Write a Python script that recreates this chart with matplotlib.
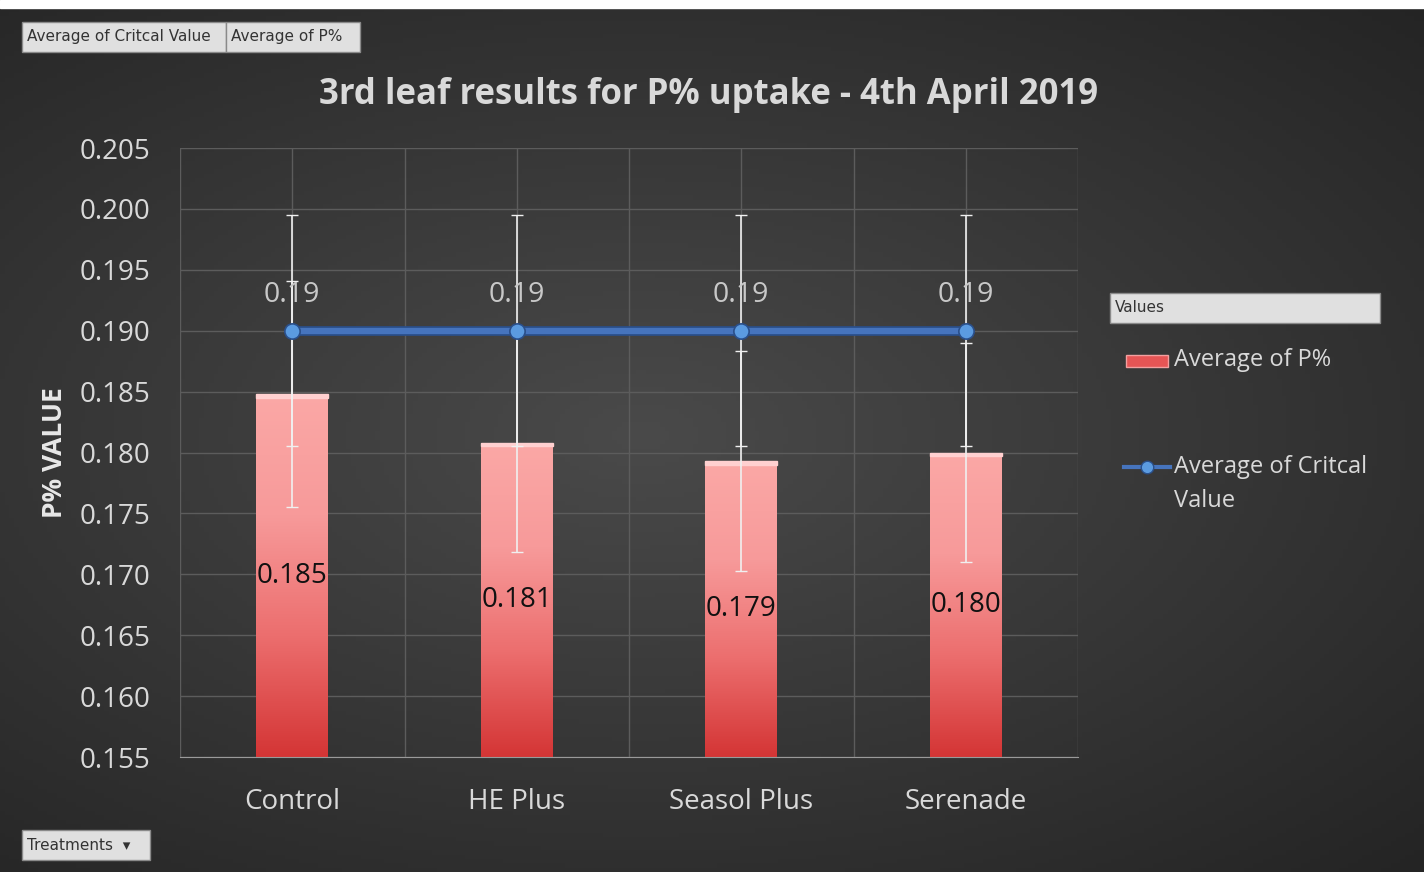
import numpy as np
import matplotlib
matplotlib.use("Agg")
import matplotlib.pyplot as plt
from matplotlib.patches import Rectangle
from matplotlib.lines import Line2D
from matplotlib.colors import LinearSegmentedColormap

plt.rcParams["font.family"] = ["Open Sans", "DejaVu Sans"]

categories = ["Control", "HE Plus", "Seasol Plus", "Serenade"]
p_values = [0.1848, 0.1808, 0.1793, 0.1800]
p_labels = ["0.185", "0.181", "0.179", "0.180"]
p_errors = [0.0093, 0.0090, 0.0090, 0.0090]
crit_values = [0.19, 0.19, 0.19, 0.19]
crit_labels = ["0.19", "0.19", "0.19", "0.19"]
crit_errors = [0.0095, 0.0095, 0.0095, 0.0095]
yticks = [0.155, 0.160, 0.165, 0.170, 0.175, 0.180, 0.185, 0.190, 0.195, 0.200, 0.205]

W, H = 1424, 872
fig = plt.figure(figsize=(W / 100, H / 100), dpi=100)

# background gradient
bg = fig.add_axes([0, 0, 1, 1], zorder=-10)
yy, xx = np.mgrid[0:1:200j, 0:1:300j]
r = np.sqrt(((xx - 0.45) / 0.9) ** 2 + ((yy - 0.5) / 0.8) ** 2)
val = 0.29 - 0.17 * r
img = np.dstack([val, val, val])
bg.imshow(np.clip(img, 0, 1), extent=[0, 1, 0, 1], aspect="auto", origin="lower")
bg.set_xlim(0, 1); bg.set_ylim(0, 1); bg.axis("off")
bg.add_patch(Rectangle((0, 1 - 8 / H), 1, 8 / H, color="white", zorder=5))

def fx(px):
    return px / W

def fy(py):
    return 1 - py / H

ax_l, ax_r, ax_t, ax_b = 180, 1078, 148, 757
ax = fig.add_axes([fx(ax_l), fy(ax_b), fx(ax_r) - fx(ax_l), fy(ax_t) - fy(ax_b)])
ax.set_facecolor("none")
x = np.arange(len(categories))
ymin, ymax = 0.155, 0.205
ax.set_yticks(yticks)
ax.set_yticklabels([f"{t:.3f}" for t in yticks], fontsize=20, color="#d9d9d9")
ax.set_xticks(x)
ax.set_xticklabels(categories, fontsize=20, color="#d9d9d9")
ax.tick_params(axis="y", length=0, pad=21)
ax.tick_params(axis="x", length=0, pad=22)
ax.grid(True, color="#5c5c5c", linewidth=1)
ax.set_axisbelow(True)
for s in ["top", "right", "left"]:
    ax.spines[s].set_visible(False)
ax.spines["bottom"].set_color("#9a9a9a")
ax.set_xticks(np.arange(-0.5, len(categories), 1), minor=True)
ax.grid(True, which="minor", axis="x", color="#5c5c5c", linewidth=1)
ax.tick_params(which="minor", length=0)

bars = ax.bar(x, p_values, width=0.32, bottom=0, color="none", zorder=2)
grad = np.linspace(0, 1, 256).reshape(-1, 1)
cmap = LinearSegmentedColormap.from_list("rg", ["#d43535", "#ec6e6e", "#f79a9a", "#fba8a6"])
for b in bars:
    x0, w, h = b.get_x(), b.get_width(), b.get_height()
    im = ax.imshow(grad, extent=[x0, x0 + w, ymin, h], origin="lower", cmap=cmap,
                   aspect="auto", zorder=2)
    im.set_clip_path(b)
    ax.add_patch(Rectangle((x0, h - 0.0003), w, 0.0003, color="#ffd0d0", zorder=2.1))
ax.set_xlim(-0.5, len(categories) - 0.5)
ax.set_ylim(ymin, ymax)

ax.errorbar(x, p_values, yerr=p_errors, fmt="none", ecolor="#f0f0f0", elinewidth=1.2,
            capsize=4, zorder=3)
ax.errorbar(x, crit_values, yerr=crit_errors, fmt="none", ecolor="#f0f0f0", elinewidth=1.2,
            capsize=4, zorder=3)
ax.plot(x, crit_values, color="#2a4f8a", linewidth=7, zorder=4)
ax.plot(x, crit_values, color="#4674bd", linewidth=4.5, zorder=4)
ax.plot(x, crit_values, linestyle="none", marker="o", markersize=11,
        markerfacecolor="#5b9be0", markeredgecolor="#2a4f8a", markeredgewidth=1.2, zorder=5)

for xi, v, lab in zip(x, crit_values, crit_labels):
    ax.text(xi, v + 0.0029, lab, ha="center", va="center", fontsize=20.5, color="#c8c8c8", zorder=6)
for xi, v, lab in zip(x, p_values, p_labels):
    ax.text(xi, (v + ymin) / 2, lab, ha="center", va="center", fontsize=20, color="#111111", zorder=6)

fig.text(fx(55), fy(453), "P% VALUE", rotation=90, ha="center", va="center",
         fontsize=19, fontweight="bold", color="#e8e8e8")
fig.text(fx(709), fy(95), "3rd leaf results for P% uptake - 4th April 2019", ha="center",
         va="center", fontsize=25, fontweight="bold", color="#d9d9d9")

def button(x0, y0, x1, y1, text, size=11):
    bg.add_patch(Rectangle((fx(x0), fy(y1)), fx(x1) - fx(x0), fy(y0) - fy(y1),
                           facecolor="#e0e0e0", edgecolor="#8a8a8a", linewidth=1, zorder=6))
    bg.text(fx(x0 + 5), fy((y0 + y1) / 2), text, ha="left", va="center", fontsize=size,
            color="#333333", zorder=7, family=["DejaVu Sans"])

button(22, 22, 226, 52, "Average of Critcal Value")
button(226, 22, 360, 52, "Average of P%")
button(22, 830, 150, 860, "Treatments  \u25be")
button(1110, 293, 1380, 323, "Values")

# legend
bg.add_patch(Rectangle((fx(1126), fy(367)), fx(1168) - fx(1126), 12 / H,
                       facecolor="#e65555", edgecolor="#f3a0a0", linewidth=1, zorder=6))
bg.text(fx(1174), fy(360), "Average of P%", ha="left", va="center", fontsize=17,
        color="#d9d9d9", zorder=7)
bg.add_line(Line2D([fx(1124), fx(1170)], [fy(467), fy(467)], color="#4674bd", linewidth=3, zorder=6))
bg.add_line(Line2D([fx(1147)], [fy(467)], marker="o", markersize=9, markerfacecolor="#5b9be0",
                   markeredgecolor="#2a4f8a", zorder=7))
bg.text(fx(1174), fy(467), "Average of Critcal", ha="left", va="center", fontsize=17,
        color="#d9d9d9", zorder=7)
bg.text(fx(1174), fy(501), "Value", ha="left", va="center", fontsize=17,
        color="#d9d9d9", zorder=7)

fig.savefig("out.png", dpi=100)
